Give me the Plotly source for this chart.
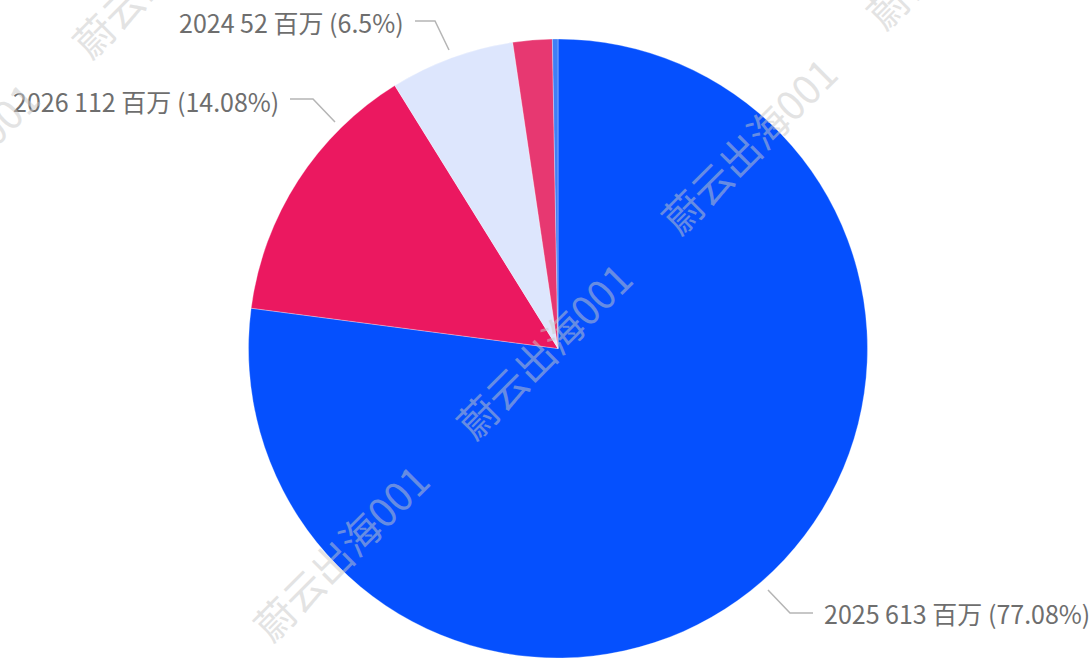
import plotly.graph_objects as go

# ---- data ----
years = ["2025", "2026", "2024", "2023", "2022"]
values = [613, 112, 51.7, 16.3, 2.3]          # 百万
colors = ["#0550FE", "#EB1860", "#DDE6FD", "#E73871", "#3F7FF5"]
show_label = [True, True, True, False, False]
unit = "百万"
watermark = "蔚云出海001"

W, H = 1091, 658
total = sum(values)

def pct_str(v):
    s = f"{v / total * 100:.2f}".rstrip("0").rstrip(".")
    return s + "%"

labels_txt = [f"{y} {round(v)} {unit} ({pct_str(v)})" for y, v in zip(years, values)]

fig = go.Figure(go.Pie(
    labels=years,
    values=values,
    sort=False,
    direction="clockwise",
    rotation=0,
    textinfo="none",
    marker=dict(colors=colors, line=dict(color="rgba(255,255,255,0.6)", width=0.5)),
    domain=dict(x=[248 / W, 868 / W], y=[0, 1 - 39 / H]),
    showlegend=False,
    hovertemplate="%{label}: %{value} " + unit + " (%{percent})<extra></extra>",
))

def px(x):
    return x / W

def py(y):
    return 1 - y / H

# label placement (pixel layout): (x, y, anchor, leader-line points)
label_layout = {
    "2025": (822, 613, "left", [(768, 590), (790, 613), (813, 613)]),
    "2026": (281, 101, "right", [(335, 122), (313, 99), (290, 99)]),
    "2024": (406, 22, "right", [(449, 50), (435, 21), (415, 21)]),
}

annotations = []
shapes = []
for y, txt, show in zip(years, labels_txt, show_label):
    if not show:
        continue
    lx, ly, anchor, pts = label_layout[y]
    annotations.append(dict(
        x=px(lx), y=py(ly), xref="paper", yref="paper", text=txt, showarrow=False,
        xanchor=anchor, yanchor="middle",
        font=dict(family="Noto Sans CJK SC, Noto Sans, sans-serif", size=25, color="#6E6E6E"),
    ))
    path = "M " + " L ".join(f"{px(a):.5f},{py(b):.5f}" for a, b in pts)
    shapes.append(dict(type="path", xref="paper", yref="paper", path=path,
                       line=dict(color="#B5B5B5", width=1.5)))

# watermark grid (pixel centres)
wm_centres = [(340, 552), (543, 350), (748, 145), (953, -60), (159, -31), (-50, 170)]
for cx, cy in wm_centres:
    annotations.append(dict(
        x=px(cx), y=py(cy), xref="paper", yref="paper", text=watermark, showarrow=False,
        textangle=-45, xanchor="center", yanchor="middle",
        font=dict(family="Noto Sans CJK SC, sans-serif", size=40, color="rgba(200,200,200,0.5)"),
    ))

fig.update_layout(
    width=W, height=H,
    margin=dict(l=0, r=0, t=0, b=0),
    paper_bgcolor="white",
    plot_bgcolor="white",
    annotations=annotations,
    shapes=shapes,
)

fig.write_html("out.html",
               config={"displayModeBar": False},
               post_script="document.body.style.margin='0';document.body.style.overflow='hidden';")
